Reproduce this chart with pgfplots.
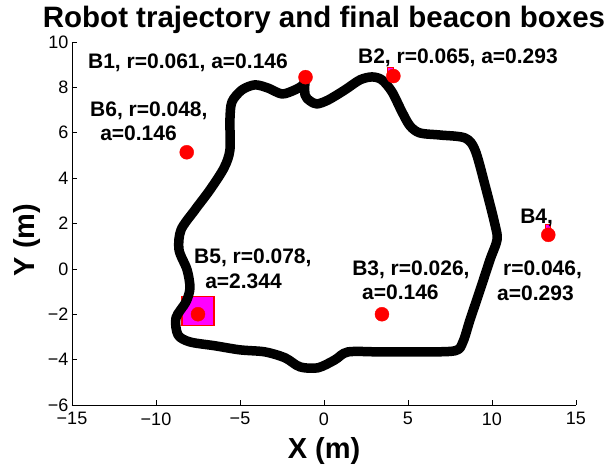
\documentclass[border=0pt]{standalone}
\usepackage{fontspec}
\setmainfont{Liberation Sans}
\usepackage{pgfplots}
\pgfplotsset{compat=1.18}
\definecolor{mag}{RGB}{255,0,255}
\definecolor{rd}{RGB}{255,0,0}
\begin{document}
\begin{tikzpicture}[x=1pt,y=1pt]
\path (-72,-65) rectangle (539,405);
\begin{axis}[at={(0,0)}, anchor=south west, scale only axis, width=504pt, height=363pt,
 xmin=-15,xmax=15,ymin=-6,ymax=10,
 axis x line=bottom, axis y line=left, axis line style={-, line width=0.8pt},
 tick align=inside, major tick length=5pt, tick style={black, line width=0.6pt},
 xtick={-15,-10,-5,0,5,10,15}, xticklabels={−15,−10,−5,0,5,10,15},
 ytick={-6,-4,-2,0,2,4,6,8,10}, yticklabels={−6,−4,−2,0,2,4,6,8,10},
 tick label style={font=\fontsize{18}{20}\selectfont},
 xticklabel style={yshift=-4pt},
 clip=false]
% boxes
\addplot[fill=mag, draw=rd, line width=1.2pt] coordinates {(-8.45,-2.5) (-6.55,-2.5) (-6.55,-1.22) (-8.45,-1.22)} -- cycle;
\addplot[fill=mag, draw=rd, line width=0.8pt] coordinates {(3.8,8.68) (4.15,8.68) (4.15,8.9) (3.8,8.9)} -- cycle;
\addplot[fill=mag, draw=rd, line width=0.8pt] coordinates {(13.15,1.72) (13.5,1.72) (13.5,1.98) (13.15,1.98)} -- cycle;
% beacons
\addplot[only marks, mark=*, mark size=7pt, color=rd] coordinates {(-1.1,8.45) (4.13,8.5) (3.45,-2) (13.35,1.5) (-7.5,-2) (-8.17,5.14)};
% trajectory
\addplot[black, line width=9.5pt, smooth, line join=round, line cap=round] coordinates {
(-1.13,8.41) (-1.13,7.67) (-0.83,7.40) (-0.42,7.27) (0.24,7.44) (1.25,7.89) (2.14,8.33) (2.86,8.46) (3.45,8.33)
(4.05,7.80) (4.64,6.92) (5.12,6.30) (5.71,5.99) (6.90,5.90) (8.39,5.77) (8.99,5.24) (9.58,3.70) (10.18,1.94)
(10.30,1.28) (9.88,0.40) (9.29,-0.93) (8.69,-2.25) (8.27,-3.22) (7.80,-3.61) (5.71,-3.66) (3.33,-3.66) (1.43,-3.66)
(0.65,-4.01) (-0.36,-4.36) (-1.43,-4.32) (-2.32,-3.92) (-3.51,-3.66) (-5.0,-3.57) (-6.49,-3.39) (-7.98,-3.22)
(-8.69,-2.91) (-8.81,-2.16) (-8.21,-1.45) (-7.98,-0.84) (-8.15,-0.04) (-8.63,0.84) (-8.51,1.72) (-7.68,2.60)
(-6.79,3.48) (-5.95,4.45) (-5.60,5.24) (-5.60,6.56) (-5.48,7.36) (-4.88,7.89) (-4.11,8.11) (-3.33,7.97)
(-2.50,7.71) (-1.73,7.89) (-1.25,8.11) (-1.13,8.41)};
% labels
\begin{scope}[every node/.style={anchor=base west, inner sep=0pt, font=\bfseries\fontsize{21}{25}\selectfont}]
\node at (axis cs:-14.05,8.81) {B1, r=0.061, a=0.146};
\node at (axis cs:2.02,9.07) {B2, r=0.065, a=0.293};
\node at (axis cs:-13.93,6.70) {B6, r=0.048,};
\node at (axis cs:-13.33,5.64) {a=0.146};
\node at (axis cs:-7.74,0.24) {B5, r=0.078,};
\node at (axis cs:-7.08,-0.86) {a=2.344};
\node at (axis cs:1.67,-0.29) {B3, r=0.026,};
\node at (axis cs:2.26,-1.37) {a=0.146};
\node at (axis cs:11.67,1.98) {B4,};
\node at (axis cs:10.65,-0.31) {r=0.046,};
\node at (axis cs:10.3,-1.39) {a=0.293};
\end{scope}
\end{axis}
\node[anchor=base, inner sep=0pt, font=\bfseries\fontsize{29.5}{32}\selectfont] at (252,377) {Robot trajectory and final beacon boxes};
\node[anchor=base, inner sep=0pt, font=\bfseries\fontsize{29}{32}\selectfont] at (252,-54) {X (m)};
\node[anchor=base, rotate=90, inner sep=0pt, font=\bfseries\fontsize{29}{32}\selectfont] at (-37,165) {Y (m)};
\end{tikzpicture}
\end{document}
